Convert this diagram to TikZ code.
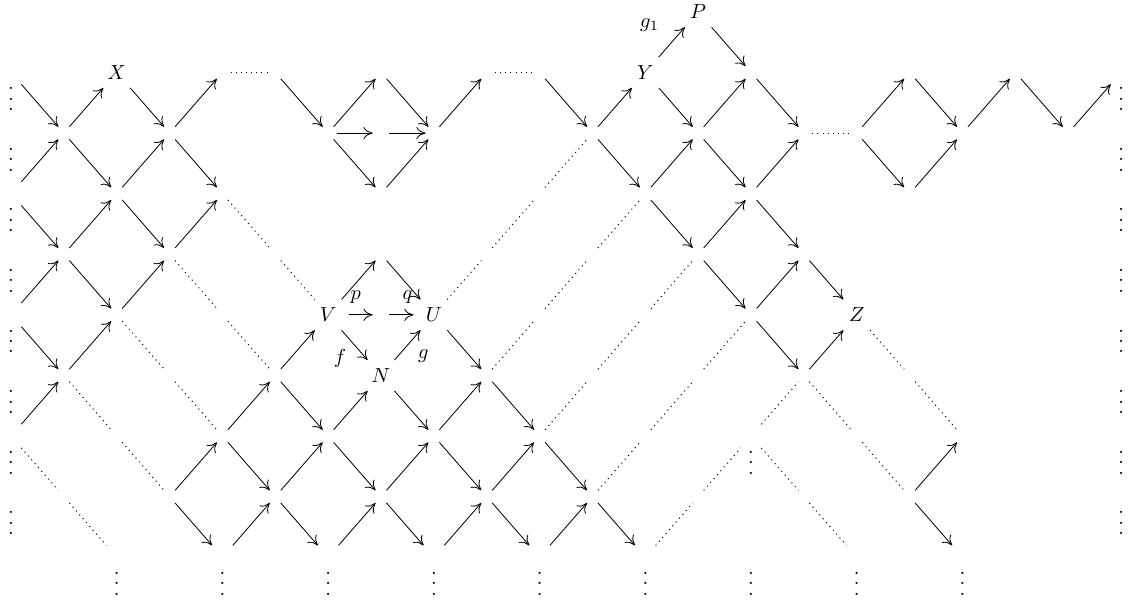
\documentclass[tikz,border=0pt]{standalone}
\usetikzlibrary{positioning,arrows.meta}
\newcommand{\vdts}{\vbox{\baselineskip5.1pt\lineskiplimit0pt\hbox{.}\hbox{.}\hbox{.}}}
\tikzset{
  jn/.style={circle, inner sep=0pt, minimum size=7.8pt},
  obj/.style={circle, inner sep=0pt, minimum size=19.6pt},
  vd/.style={circle, inner sep=0pt, minimum size=15pt,
             label={[inner sep=0pt, yshift=-13pt]center:\vdts}},
  ar/.style={-{Computer Modern Rightarrow[length=4.5pt,width=6pt]}, line width=0.4pt},
  dt/.style={dotted, line width=0.5pt},
  lbl/.style={inner sep=2pt},
}

\begin{document}
\begin{tikzpicture}[x=25.90pt, y=-29.69pt]
  \useasboundingbox (-0.208,-0.196) rectangle (21.131,9.754);

  \foreach \j in {1,...,20}
    \foreach \i in {1,...,8}
      \node[jn] (c-\j-\i) at (\j,\i) {};
  \foreach \i in {1,...,8}{
    \node[vd] (c-0-\i) at (0,\i) {};
    \node[vd] (c-21-\i) at (21,\i) {};
  }
  \foreach \j in {2,4,...,18}
    \node[vd] (c-\j-9) at (\j,9) {};
  \node[vd] (c-14-7) at (14,7) {};

  \node[obj, alias=X] (c-2-1) at (2,1) {$X$};
  \node[obj, alias=Y] (c-12-1) at (12,1) {$Y$};
  \node[obj, alias=P] (c-13-0) at (13,0) {$P$};
  \node[obj, alias=V] (c-6-5) at (6,5) {$V$};
  \node[obj, alias=U] (c-8-5) at (8,5) {$U$};
  \node[obj, alias=N] (c-7-6) at (7,6) {$N$};
  \node[obj, alias=Z] (c-16-5) at (16,5) {$Z$};

  \foreach \ja/\ia/\jb/\ib in {
      0/1/1/2, 1/2/2/1, 2/1/3/2, 3/2/4/1, 5/1/6/2, 6/2/7/1, 7/1/8/2, 8/2/9/1,
      10/1/11/2, 11/2/12/1, 12/1/13/2, 13/2/14/1, 14/1/15/2, 16/2/17/1,
      17/1/18/2, 18/2/19/1, 19/1/20/2, 20/2/21/1, 13/0/14/1, 6/2/7/2, 7/2/8/2,
      0/3/1/2, 1/2/2/3, 2/3/3/2, 3/2/4/3, 6/2/7/3, 7/3/8/2, 11/2/12/3,
      12/3/13/2, 13/2/14/3, 14/3/15/2, 16/2/17/3, 17/3/18/2,
      0/3/1/4, 1/4/2/3, 2/3/3/4, 3/4/4/3, 12/3/13/4, 13/4/14/3, 14/3/15/4,
      0/5/1/4, 1/4/2/5, 2/5/3/4, 6/5/7/4, 7/4/8/5, 13/4/14/5, 14/5/15/4, 15/4/16/5,
      0/5/1/6, 1/6/2/5, 5/6/6/5, 8/5/9/6, 14/5/15/6, 15/6/16/5,
      0/7/1/6, 4/7/5/6, 5/6/6/7, 6/7/7/6, 7/6/8/7, 8/7/9/6, 9/6/10/7,
      3/8/4/7, 4/7/5/8, 5/8/6/7, 6/7/7/8, 7/8/8/7, 8/7/9/8, 9/8/10/7,
      10/7/11/8, 17/8/18/7,
      3/8/4/9, 4/9/5/8, 5/8/6/9, 6/9/7/8, 7/8/8/9, 8/9/9/8, 9/8/10/9,
      10/9/11/8, 11/8/12/9, 17/8/18/9}
    \draw[ar] (c-\ja-\ia) -- (c-\jb-\ib);

  \foreach \ja/\ia/\jb/\ib in {
      4/1/5/1, 9/1/10/1, 15/2/16/2,
      10/3/11/2, 4/3/5/4, 9/4/10/3, 11/4/12/3, 3/4/4/5, 5/4/6/5, 8/5/9/4,
      10/5/11/4, 12/5/13/4, 2/5/3/6, 4/5/5/6, 9/6/10/5, 11/6/12/5, 13/6/14/5,
      16/5/17/6, 1/6/2/7, 3/6/4/7, 10/7/11/6, 12/7/13/6, 14/7/15/6, 15/6/16/7,
      17/6/18/7, 0/7/1/8, 2/7/3/8, 11/8/12/7, 13/8/14/7, 14/7/15/8, 16/7/17/8,
      1/8/2/9, 12/9/13/8, 15/8/16/9}
    \draw[dt] (c-\ja-\ia) -- (c-\jb-\ib);

  \draw[ar] (Y) -- node[lbl, above left=3pt and 4pt] {$g_1$} (P);
  \draw[ar] (V) -- node[lbl, pos=.3, above=3.5pt] {$p$} (c-7-5);
  \draw[ar] (c-7-5) -- node[lbl, pos=.75, above=3.5pt] {$q$} (U);
  \draw[ar] (V) -- node[lbl, below left=0pt and 2pt] {$f$} (N);
  \draw[ar] (N) -- node[lbl, below right=0pt and 3pt] {$g$} (U);
\end{tikzpicture}
\end{document}
